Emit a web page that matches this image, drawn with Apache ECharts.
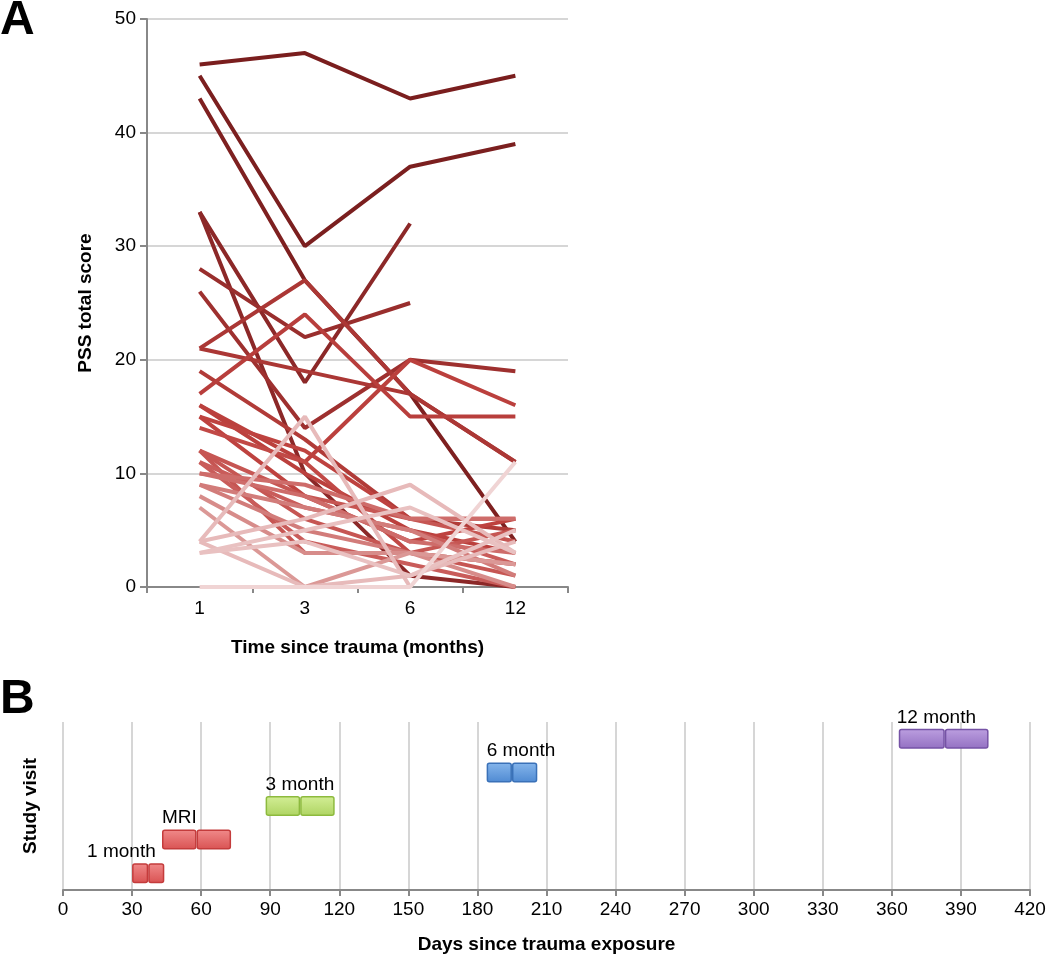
<!DOCTYPE html>
<html>
<head>
<meta charset="utf-8">
<script src="https://cdn.jsdelivr.net/npm/echarts@6/dist/echarts.min.js"></script>
<style>
  html, body { margin: 0; padding: 0; background: #fff; }
  #chart { width: 1050px; height: 958px; }
</style>
</head>
<body>
<div id="chart"></div>
<script>
// panel A: PSS scores per subject at 1, 3, 6, 12 months (null = missing visit)
var months = ['1', '3', '6', '12'];
var subjects = [
    [46, 47, 43, 45],
    [45, 30, 37, 39],
    [43, 27, 17, 4],
    [33, 18, 32, null],
    [33, 10, 1, 0],
    [28, 22, 25, null],
    [26, 14, 20, 19],
    [21, 27, 17, 11],
    [21, 19, 17, 11],
    [19, 13, 6, 5],
    [17, 24, 15, 15],
    [16, 11, 20, 16],
    [16, 10, 5, 3],
    [15, 8, 4, 6],
    [15, 12, 6, 6],
    [14, 11, 3, 2],
    [12, 3, 3, 5],
    [12, 6, 3, 1],
    [12, 8, 6, 4],
    [11, 7, 5, 2],
    [11, 4, 2, 0],
    [10, 8, 4, 3],
    [10, 9, 6, 6],
    [9, 7, 5, 1],
    [9, 5, 3, 2],
    [8, 3, 3, 0],
    [7, 0, 3, 2],
    [4, 15, 0, null],
    [4, 6, 9, 3],
    [4, 0, 1, 4],
    [3, 5, 7, 3],
    [3, 4, 1, 5],
    [0, 0, 0, 11]
];

// panel B: visit windows in days since trauma
var visitNames = ['1 month', 'MRI', '3 month', '6 month', '12 month'];
var visitStart = [30, 43, 88, 184, 363];
var visitMedian = [37, 58, 103, 195, 383];
var visitEnd = [44, 73, 118, 206, 402];
var dayTicks = [0, 30, 60, 90, 120, 150, 180, 210, 240, 270, 300, 330, 360, 390, 420];

var font = 'Liberation Sans, Arial, sans-serif';

// colour by baseline score: light pink for low, dark maroon for high
var stops = [
    [0, [240, 212, 212]],
    [4, [231, 186, 186]],
    [8, [215, 140, 138]],
    [11, [201, 92, 90]],
    [15, [190, 66, 63]],
    [22, [168, 53, 51]],
    [33, [140, 40, 40]],
    [46, [122, 30, 30]]
];
function scoreColor(v) {
    for (var i = 1; i < stops.length; i++) {
        if (v <= stops[i][0]) {
            var a = stops[i - 1], b = stops[i];
            var t = (v - a[0]) / (b[0] - a[0]);
            var c = a[1].map(function (x, k) { return Math.round(x + (b[1][k] - x) * t); });
            return 'rgb(' + c.join(',') + ')';
        }
    }
    return 'rgb(122,30,30)';
}

var visitColors = [
    { top: '#f08a8a', bottom: '#d95252', border: '#c43c3c' },
    { top: '#f08a8a', bottom: '#d95252', border: '#c43c3c' },
    { top: '#d3ee96', bottom: '#aed462', border: '#8dba3e' },
    { top: '#86b6ec', bottom: '#4f8ad2', border: '#3a71b8' },
    { top: '#bc9fe0', bottom: '#9370c2', border: '#7653a6' }
];
var labelOffset = [-45, 0, 0, 0, -2];

function segData(values) {
    return values.map(function (v, i) {
        var c = visitColors[i];
        return {
            value: v,
            itemStyle: {
                color: new echarts.graphic.LinearGradient(0, 0, 0, 1, [
                    { offset: 0, color: c.top },
                    { offset: 1, color: c.bottom }
                ]),
                borderColor: c.border,
                borderWidth: 1.5,
                borderRadius: 2
            }
        };
    });
}

var chart = echarts.init(document.getElementById('chart'));

var series = [];
subjects.forEach(function (s) {
    series.push({
        type: 'line',
        xAxisIndex: 0,
        yAxisIndex: 0,
        data: s,
        showSymbol: false,
        connectNulls: false,
        silent: true,
        lineStyle: { width: 4, color: scoreColor(s[0]) }
    });
});

series.push({
    type: 'bar',
    xAxisIndex: 1,
    yAxisIndex: 1,
    stack: 'visit',
    barWidth: 20,
    silent: true,
    itemStyle: { color: 'transparent' },
    data: visitStart
});
var firstSeg = segData(visitMedian.map(function (m, i) { return m - visitStart[i]; }));
firstSeg.forEach(function (d, i) {
    d.label = {
        show: true,
        formatter: visitNames[i],
        position: [labelOffset[i], -21],
        color: '#000',
        fontSize: 19,
        fontFamily: font
    };
});
series.push({
    type: 'bar',
    xAxisIndex: 1,
    yAxisIndex: 1,
    stack: 'visit',
    barWidth: 20,
    silent: true,
    data: firstSeg
});
series.push({
    type: 'bar',
    xAxisIndex: 1,
    yAxisIndex: 1,
    stack: 'visit',
    barWidth: 20,
    silent: true,
    data: segData(visitEnd.map(function (e, i) { return e - visitMedian[i]; }))
});

var option = {
    backgroundColor: '#fff',
    animation: false,
    textStyle: { fontFamily: font },
    graphic: [
        { type: 'text', left: 0, top: -3, style: { text: 'A', font: 'bold 48px ' + font, fill: '#000' } },
        { type: 'text', left: 0, top: 676, style: { text: 'B', font: 'bold 48px ' + font, fill: '#000' } }
    ],
    grid: [
        { left: 147, top: 19, width: 421, height: 568 },
        { left: 63, top: 722, width: 967, height: 168 }
    ],
    xAxis: [
        {
            gridIndex: 0,
            type: 'category',
            data: months,
            name: 'Time since trauma (months)',
            nameLocation: 'middle',
            nameGap: 51,
            nameTextStyle: { fontSize: 19, fontWeight: 'bold', color: '#000' },
            axisLine: { lineStyle: { color: '#888', width: 2 } },
            axisTick: { show: true, length: 6, lineStyle: { color: '#888', width: 2 } },
            axisLabel: { fontSize: 19, color: '#000', margin: 12 },
            splitLine: { show: false }
        },
        {
            gridIndex: 1,
            type: 'value',
            min: 0,
            max: 420,
            interval: 30,
            name: 'Days since trauma exposure',
            nameLocation: 'middle',
            nameGap: 45,
            nameTextStyle: { fontSize: 19, fontWeight: 'bold', color: '#000' },
            axisLine: { show: true, lineStyle: { color: '#888', width: 2 } },
            axisTick: { show: true, length: 6, lineStyle: { color: '#888', width: 2 } },
            axisLabel: {
                fontSize: 19, color: '#000', margin: 10,
                formatter: function (v) { return dayTicks.indexOf(v) >= 0 ? String(v) : ''; }
            },
            splitLine: { show: true, lineStyle: { color: '#d6d6d6', width: 2 } }
        }
    ],
    yAxis: [
        {
            gridIndex: 0,
            type: 'value',
            min: 0,
            max: 50,
            interval: 10,
            name: 'PSS total score',
            nameLocation: 'middle',
            nameGap: 52,
            nameTextStyle: { fontSize: 19, fontWeight: 'bold', color: '#000' },
            axisLine: { show: true, lineStyle: { color: '#888', width: 2 } },
            axisTick: { show: true, length: 7, lineStyle: { color: '#888', width: 2 } },
            axisLabel: { fontSize: 19, color: '#000', margin: 11 },
            splitLine: { show: true, lineStyle: { color: '#d6d6d6', width: 2 } }
        },
        {
            gridIndex: 1,
            type: 'category',
            data: visitNames,
            name: 'Study visit',
            nameLocation: 'middle',
            nameGap: 23,
            nameTextStyle: { fontSize: 19, fontWeight: 'bold', color: '#000' },
            axisLine: { show: false },
            axisTick: { show: false },
            axisLabel: { show: false },
            splitLine: { show: false }
        }
    ],
    series: series
};

chart.setOption(option);
</script>
</body>
</html>
